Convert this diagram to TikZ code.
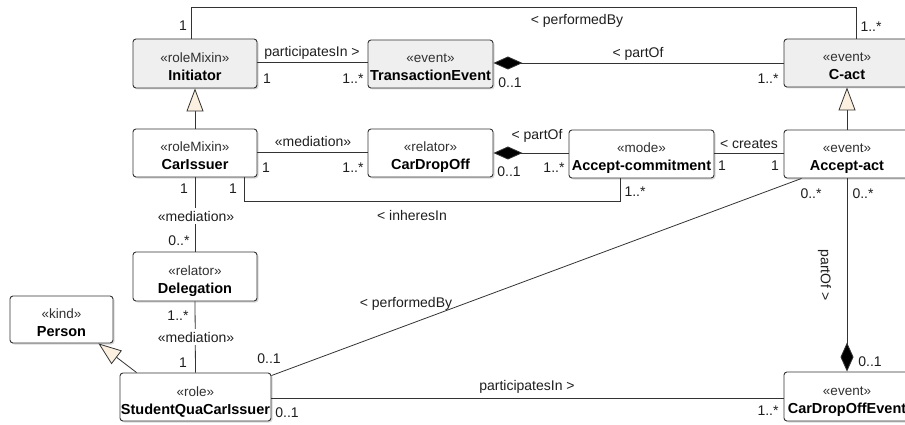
\documentclass[tikz,border=0pt]{standalone}
\usepackage{fontspec}
\setmainfont{Liberation Sans}
\usetikzlibrary{arrows.meta,shadows}
\definecolor{boxgray}{HTML}{EFEFEF}
\definecolor{cream}{HTML}{FCF0E0}
\definecolor{linecol}{HTML}{333333}
\definecolor{textcol}{HTML}{1E1E1E}
\definecolor{stereocol}{HTML}{303030}
\newcommand{\boxtext}[3]{%
  \path (#1.center) ++(0,-1) node[stereo]{#2} ++(0,18) node[bname]{#3};}
\begin{document}
\begin{tikzpicture}[x=1pt,y=-1pt,
  umlbox/.style={draw=linecol, line width=0.9pt, rounded corners=3pt, inner sep=0pt,
    fill=white, drop shadow={shadow xshift=1.5pt,shadow yshift=-1.5pt,opacity=0.3,fill=gray}},
  topbox/.style={umlbox, fill=boxgray},
  stereo/.style={anchor=base, inner sep=0pt, font=\fontsize{13.5}{16}\selectfont, text=stereocol},
  bname/.style={anchor=base, inner sep=0pt, font=\fontsize{14.5}{17}\selectfont\bfseries, text=black},
  lab/.style={inner sep=0pt, font=\fontsize{14}{17}\selectfont, text height=10.5pt, text depth=0pt, text=textcol},
  midlab/.style={lab, fill=white, inner sep=3pt},
  conn/.style={draw=linecol, line width=0.8pt},
  gen/.style={conn, -{Triangle[width=17pt,length=23pt,fill=cream,line width=0.8pt]}},
  comp/.style={conn, -{Diamond[length=29pt,width=13pt,fill=black]}}
]
\useasboundingbox (0,0) rectangle (905,425);

% boxes
\node[topbox, minimum width=124pt, minimum height=49pt] (ini) at (195,63.5) {};
\node[topbox, minimum width=125pt, minimum height=48pt] (te) at (430.5,64) {};
\node[topbox, minimum width=126pt, minimum height=48pt] (cact) at (847,63) {};
\node[umlbox, minimum width=124pt, minimum height=48pt] (ci) at (195,153) {};
\node[umlbox, minimum width=125pt, minimum height=48pt] (cdo) at (430.5,153) {};
\node[umlbox, minimum width=145pt, minimum height=48pt] (ac) at (641.5,154) {};
\node[umlbox, minimum width=126pt, minimum height=48pt] (aa) at (847,154) {};
\node[umlbox, minimum width=124pt, minimum height=49pt] (del) at (195,276.5) {};
\node[umlbox, minimum width=103pt, minimum height=47pt] (per) at (61.5,319.5) {};
\node[umlbox, minimum width=151pt, minimum height=48pt] (stu) at (195.5,397) {};
\node[umlbox, minimum width=126pt, minimum height=49pt] (cdoe) at (847,396.5) {};

\boxtext{ini}{«roleMixin»}{Initiator}
\boxtext{te}{«event»}{TransactionEvent}
\boxtext{cact}{«event»}{C-act}
\boxtext{ci}{«roleMixin»}{CarIssuer}
\boxtext{cdo}{«relator»}{CarDropOff}
\boxtext{ac}{«mode»}{Accept-commitment}
\boxtext{aa}{«event»}{Accept-act}
\boxtext{del}{«relator»}{Delegation}
\boxtext{per}{«kind»}{Person}
\boxtext{stu}{«role»}{StudentQuaCarIssuer}
\boxtext{cdoe}{«event»}{CarDropOffEvent}

% connectors
\draw[conn] ([xshift=-4pt]ini.north) -- ++(0,-31) -| ([xshift=9pt]cact.north);
\draw[conn] ([yshift=1pt]ini.east) -- ([yshift=1pt]ini.east -| te.west);
\draw[comp] (cact.west) -- (cact.west -| te.east);
\draw[gen] (ci.north) -- (ini.south);
\draw[gen] (aa.north) -- (cact.south);
\draw[conn] ([yshift=1pt]ci.east) -- ([yshift=1pt]ci.east -| cdo.west);
\draw[comp] ([yshift=1pt]ac.west) -- ([yshift=1pt]ac.west -| cdo.east);
\draw[conn] ([yshift=1pt]ac.east) -- ([yshift=1pt]ac.east -| aa.west);
\draw[conn] ([xshift=-13pt]ci.south east) -- ++(0,24) -| ([xshift=-21.5pt]ac.south);
\draw[conn] (ci.south) -- (del.north);
\draw[conn] (del.south) -- (stu.north);
\draw[gen] ([xshift=17pt]stu.north west) -- ([xshift=-15pt]per.south east);
\draw[conn] ([yshift=-3pt]stu.north east) -- ([xshift=18pt]aa.south west);
\draw[conn] ([yshift=-1pt]stu.east) -- ([yshift=-1pt]stu.east -| cdoe.west);
\draw[comp] (aa.south) -- (cdoe.north);

% labels
\node[lab] (l1a) at (183,25) {1};
\node[lab] (l1b) at (871,26) {1..*};
\node[lab] (l1c) at (577,19) {< performedBy};
\node[lab] (l2a) at (312,51) {participatesIn >};
\node[lab] (l2b) at (267,78) {1};
\node[lab] (l2c) at (353,78) {1..*};
\node[lab] (l3a) at (638,52) {< partOf};
\node[lab] (l3b) at (510,82) {0..1};
\node[lab] (l3c) at (768,78) {1..*};
\node[lab] (l6a) at (313,141) {«mediation»};
\node[lab] (l6b) at (266,167) {1};
\node[lab] (l6c) at (353,167) {1..*};
\node[lab] (l7a) at (537,134) {< partOf};
\node[lab] (l7b) at (509,171) {0..1};
\node[lab] (l7c) at (554,167) {1..*};
\node[lab] (l8a) at (749,143) {< creates};
\node[lab] (l8b) at (722,165) {1};
\node[lab] (l8c) at (775,165) {1};
\node[lab] (l9a) at (233,188) {1};
\node[lab] (l9b) at (635,191) {1..*};
\node[lab] (l9c) at (412,215) {< inheresIn};
\node[lab] (l10a) at (184,188) {1};
\node[midlab] (l10b) at (196,216) {«mediation»};
\node[lab] (l10c) at (179,240) {0..*};
\node[lab] (l11a) at (178,315) {1..*};
\node[midlab] (l11b) at (196,337) {«mediation»};
\node[lab] (l11c) at (183,362) {1};
\node[lab] (l13a) at (406,302) {< performedBy};
\node[lab] (l13b) at (269,358) {0..1};
\node[lab] (l13c) at (811,193) {0..*};
\node[lab] (l14a) at (527,385) {participatesIn >};
\node[lab] (l14b) at (287,412) {0..1};
\node[lab] (l14c) at (768,410) {1..*};
\node[lab, rotate=-90] (l15a) at (826,275) {partOf >};
\node[lab] (l15b) at (863,193) {0..*};
\node[lab] (l15c) at (870,361) {0..1};
\end{tikzpicture}
\end{document}
